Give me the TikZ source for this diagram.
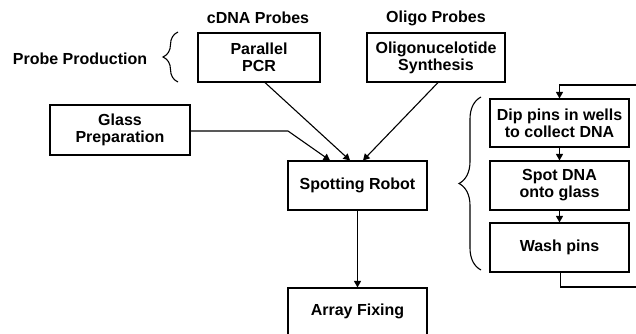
\documentclass[tikz,border=0pt]{standalone}
\usepackage{fontspec}
\setmainfont{Liberation Sans}
\usetikzlibrary{arrows.meta,calc,decorations.pathreplacing}
\tikzset{
  box/.style={draw, line width=1.1pt, align=center, inner sep=2pt,
    font=\bfseries\fontsize{16}{17}\selectfont},
  lbl/.style={font=\bfseries\fontsize{16}{17}\selectfont, inner sep=0pt},
  conn/.style={line width=1.1pt, -{Triangle[length=6.5pt,width=7pt]}},
  brc/.style={line width=1.1pt, decorate, decoration={brace, amplitude=#1}}
}
\begin{document}
\begin{tikzpicture}[x=1pt,y=-1pt]
\useasboundingbox (0,0) rectangle (636,334);
% labels
\node[lbl] (cdna) at (258,18) {cDNA Probes};
\node[lbl] (oligolbl) at (436,18) {Oligo Probes};
\node[lbl] (pp) at (80,59) {Probe Production};
% boxes
\node[box, minimum width=122pt, minimum height=49pt] (pcr) at (259,57.5) {Parallel\\PCR};
\node[box, minimum width=138pt, minimum height=49pt] (oligo) at (436,57.5) {Oligonucelotide\\Synthesis};
\node[box, minimum width=140pt, minimum height=50pt] (glass) at (120,130) {Glass\\Preparation};
\node[box, minimum width=139pt, minimum height=49pt] (robot) at (357.5,185.5) {Spotting Robot};
\node[box, minimum width=139pt, minimum height=47pt] (array) at (357.5,311.5) {Array Fixing};
\node[box, minimum width=139pt, minimum height=48pt] (dip) at (559.5,123) {Dip pins in wells\\to collect DNA};
\node[box, minimum width=139pt, minimum height=49pt] (spot) at (559.5,185.5) {Spot DNA\\onto glass};
\node[box, minimum width=139pt, minimum height=49pt] (wash) at (559.5,247.5) {Wash pins};
% braces
\coordinate (b1a) at (178,82);
\coordinate (b1b) at (178,32);
\draw[brc=15pt] (b1a) -- (b1b);
\coordinate (b2a) at (481,270);
\coordinate (b2b) at (481,97);
\draw[brc=22pt] (b2a) -- (b2b);
% connectors into robot
\coordinate (gbend) at (288,131);
\draw[conn] (glass.east |- gbend) -- (gbend) -- ($(robot.north)+(-27.5,0)$);
\draw[conn] ($(pcr.south)+(6,0)$) -- ($(robot.north)+(-7.5,0)$);
\draw[conn] ($(oligo.south)+(2,0)$) -- ($(robot.north)+(5.5,0)$);
\draw[conn] (robot.south) -- (array.north);
% right column
\draw[conn] (dip.south) -- (spot.north);
\draw[conn] (spot.south) -- (wash.north);
\coordinate (l1) at (560.5,287);
\coordinate (l2) at (639,287);
\coordinate (l3) at (639,85);
\coordinate (l4) at (559.5,85);
\draw[conn] ($(wash.south)+(1,0)$) -- (l1) -- (l2) -- (l3) -- (l4) -- (dip.north);
\end{tikzpicture}
\end{document}
